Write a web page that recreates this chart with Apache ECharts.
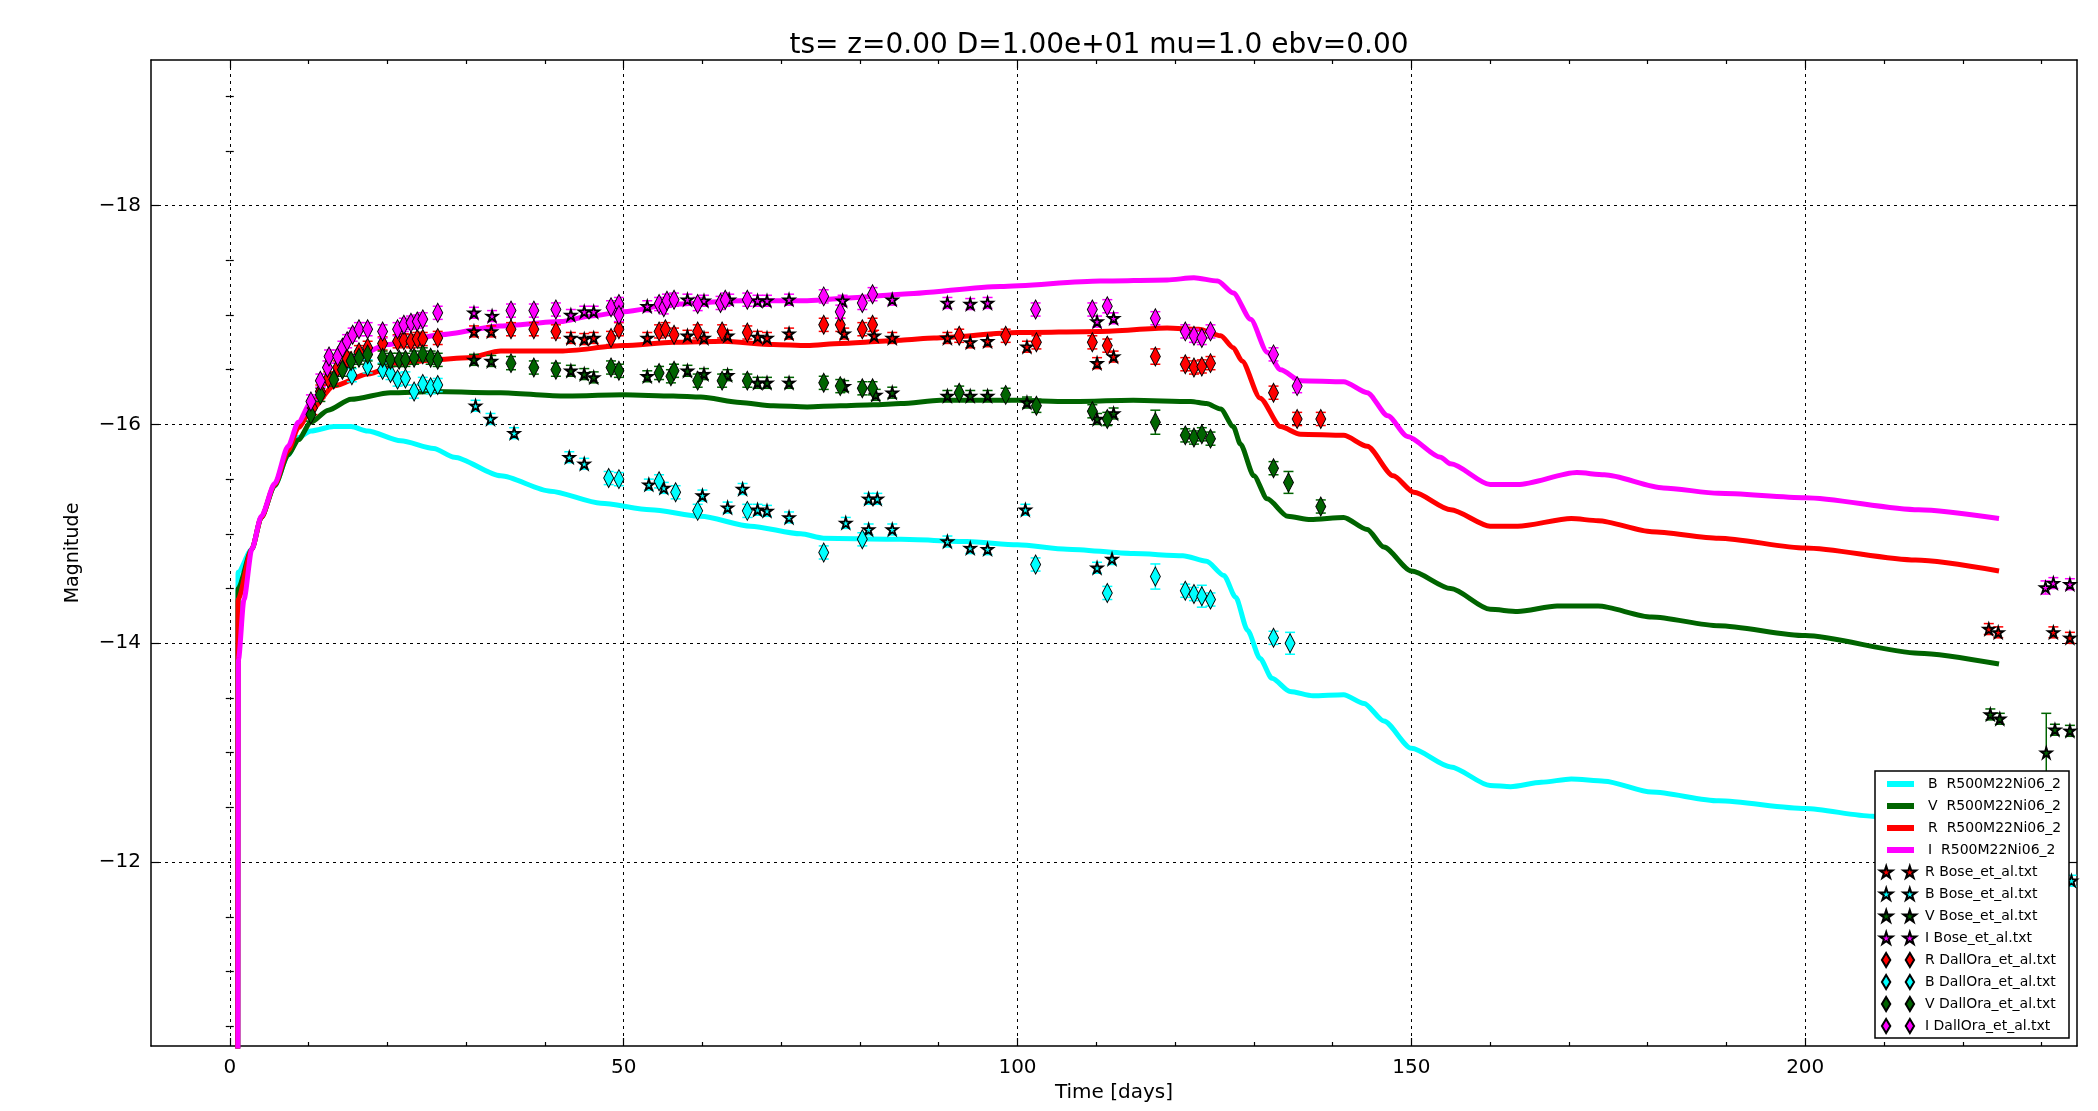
<!DOCTYPE html>
<html>
<head>
<meta charset="utf-8">
<script src="https://cdn.jsdelivr.net/npm/echarts@6/dist/echarts.min.js"></script>
<style>
  html, body { margin: 0; padding: 0; background: #fff; }
  #chart { width: 2098px; height: 1111px; }
</style>
</head>
<body>
<div id="chart"></div>
<script>
// model light curves [t, mag]
const modelB = [[1.0,-8],[1.05,-14.65],[2.8,-14.86],[4.0,-15.15],[5.7,-15.44],[7.4,-15.72],[8.7,-15.88],[10.3,-15.94],[13.2,-15.98],[15.4,-15.98],[17.5,-15.94],[21.7,-15.85],[25.9,-15.78],[28.5,-15.70],[34.4,-15.53],[40.7,-15.39],[47.1,-15.28],[53.4,-15.22],[59.8,-15.16],[66.1,-15.07],[72.5,-15.0],[75.4,-14.96],[85.2,-14.95],[93.6,-14.93],[100,-14.9],[106.3,-14.86],[114.7,-14.82],[121,-14.80],[124,-14.75],[126.2,-14.62],[127.7,-14.42],[129.2,-14.12],[130.8,-13.86],[132.3,-13.68],[134.6,-13.56],[137.5,-13.52],[141.4,-13.53],[144,-13.45],[146.5,-13.29],[150,-13.04],[155,-12.87],[160,-12.70],[162.6,-12.69],[166.5,-12.73],[170.3,-12.76],[174.5,-12.74],[180.5,-12.64],[189,-12.56],[200,-12.49],[208.5,-12.42],[216,-12.37],[224.6,-12.3]]
const modelV = [[1.0,-8],[1.05,-14.5],[2.8,-14.86],[4.0,-15.15],[5.7,-15.44],[7.4,-15.72],[8.7,-15.86],[10.3,-16.02],[12.5,-16.13],[15.4,-16.23],[20.4,-16.29],[25.9,-16.30],[34.4,-16.29],[42,-16.26],[50,-16.27],[56.3,-16.26],[59.8,-16.25],[64.8,-16.2],[69,-16.17],[73.3,-16.16],[77.5,-16.17],[81.7,-16.18],[85.2,-16.19],[90.2,-16.22],[100,-16.22],[106.3,-16.21],[114.7,-16.22],[122,-16.21],[124,-16.19],[125.8,-16.14],[127.4,-15.98],[128.3,-15.82],[130,-15.53],[131.7,-15.32],[134.3,-15.16],[137.2,-15.13],[141.4,-15.15],[144.4,-15.04],[146.5,-14.88],[150,-14.66],[155,-14.5],[160,-14.31],[163.5,-14.29],[168.5,-14.34],[173.7,-14.34],[180.5,-14.24],[189,-14.16],[200,-14.07],[214.4,-13.91],[224.6,-13.81]]
const modelR = [[1.0,-8],[1.05,-14.4],[2.8,-14.86],[4.0,-15.15],[5.7,-15.45],[7.4,-15.76],[8.7,-15.97],[10.3,-16.13],[13.2,-16.35],[17.5,-16.46],[21.7,-16.56],[25.9,-16.59],[30.2,-16.61],[34.4,-16.67],[42,-16.67],[50,-16.72],[56.3,-16.75],[62.7,-16.76],[69,-16.73],[73.3,-16.72],[77.5,-16.74],[85.2,-16.77],[89.4,-16.79],[100,-16.84],[110.5,-16.85],[119,-16.88],[123,-16.87],[125.8,-16.81],[127.4,-16.70],[128.5,-16.58],[130.8,-16.24],[133.4,-15.98],[135.9,-15.91],[141.4,-15.90],[144.4,-15.80],[147.7,-15.53],[150.3,-15.38],[155,-15.22],[160,-15.07],[163.5,-15.07],[170.3,-15.14],[173.7,-15.12],[180.5,-15.02],[189,-14.96],[200,-14.87],[214,-14.76],[224.6,-14.66]]
const modelI = [[1.0,-8],[1.1,-13.85],[1.8,-14.4],[2.8,-14.86],[4.0,-15.16],[5.7,-15.46],[7.4,-15.80],[8.7,-16.02],[10.3,-16.2],[13,-16.45],[16,-16.62],[20,-16.73],[26.8,-16.82],[34.4,-16.9],[42,-16.94],[45.8,-16.99],[50,-17.03],[56.3,-17.10],[64.8,-17.13],[73.3,-17.13],[79.7,-17.16],[85.2,-17.19],[97.8,-17.26],[110.5,-17.31],[119,-17.32],[122.4,-17.34],[125.4,-17.31],[127.4,-17.2],[129.6,-16.96],[131.7,-16.66],[133.4,-16.5],[135.9,-16.40],[141.4,-16.39],[144.4,-16.29],[147,-16.08],[149.5,-15.89],[153.7,-15.70],[155,-15.64],[160,-15.45],[163.5,-15.45],[171,-15.56],[174.5,-15.54],[182,-15.42],[189,-15.37],[200,-15.33],[214.4,-15.22],[224.6,-15.14]]

// observations [t, mag, err]
const boseR = [[31.0,-16.85,0.05],[33.2,-16.85,0.05],[43.3,-16.79,0.05],[45.0,-16.78,0.05],[46.2,-16.79,0.05],[53.0,-16.79,0.05],[58.1,-16.81,0.05],[60.2,-16.79,0.05],[63.2,-16.81,0.05],[67.0,-16.80,0.05],[68.2,-16.79,0.05],[71.0,-16.83,0.05],[78.0,-16.83,0.05],[81.8,-16.81,0.05],[84.1,-16.79,0.05],[91.1,-16.79,0.05],[94.0,-16.75,0.05],[96.2,-16.76,0.05],[101.2,-16.71,0.05],[110.1,-16.56,0.05],[112.2,-16.62,0.05],[223.3,-14.13,0.05],[224.5,-14.10,0.05],[231.5,-14.10,0.05],[233.6,-14.05,0.05]]
const boseB = [[31.2,-16.17,0.05],[33.1,-16.05,0.05],[36.1,-15.92,0.05],[43.1,-15.70,0.05],[45.0,-15.64,0.05],[53.2,-15.45,0.05],[55.1,-15.42,0.05],[60.0,-15.35,0.05],[63.2,-15.24,0.05],[65.1,-15.41,0.05],[67.0,-15.22,0.05],[68.2,-15.21,0.05],[71.0,-15.15,0.05],[78.2,-15.10,0.05],[81.1,-15.32,0.05],[82.2,-15.32,0.05],[81.1,-15.04,0.05],[84.1,-15.04,0.05],[91.1,-14.93,0.05],[94.0,-14.87,0.05],[96.2,-14.86,0.05],[101.0,-15.22,0.05],[110.1,-14.69,0.05],[112.0,-14.77,0.05],[233.8,-11.83,0.05]]
const boseV = [[31.0,-16.59,0.05],[33.2,-16.58,0.05],[43.3,-16.49,0.05],[45.0,-16.46,0.05],[46.2,-16.43,0.05],[53.0,-16.44,0.05],[58.1,-16.49,0.05],[60.2,-16.46,0.05],[63.2,-16.45,0.05],[67.0,-16.38,0.05],[68.2,-16.38,0.05],[71.0,-16.38,0.05],[78.0,-16.35,0.05],[82.0,-16.27,0.05],[84.1,-16.29,0.05],[91.1,-16.26,0.05],[94.0,-16.26,0.05],[96.2,-16.26,0.05],[101.2,-16.20,0.05],[110.1,-16.05,0.05],[112.2,-16.10,0.05],[223.5,-13.35,0.05],[224.7,-13.31,0.05],[230.6,-13.0,0.36],[231.7,-13.21,0.05],[233.6,-13.20,0.05]]
const boseI = [[31.0,-17.02,0.05],[33.3,-16.99,0.05],[43.3,-17.0,0.05],[45.0,-17.03,0.05],[46.2,-17.03,0.05],[53.0,-17.08,0.05],[58.1,-17.14,0.05],[60.2,-17.13,0.05],[63.4,-17.14,0.05],[67.0,-17.13,0.05],[68.2,-17.13,0.05],[71.0,-17.14,0.05],[77.8,-17.13,0.05],[84.1,-17.14,0.05],[91.1,-17.11,0.05],[94.0,-17.10,0.05],[96.2,-17.11,0.05],[110.1,-16.94,0.05],[112.2,-16.97,0.05],[230.5,-14.51,0.06],[231.5,-14.55,0.05],[233.6,-14.54,0.05]]
const dallR = [[10.5,-16.15,0.06],[11.5,-16.3,0.06],[12.5,-16.42,0.06],[13.7,-16.52,0.06],[14.9,-16.6,0.06],[16.4,-16.66,0.06],[17.5,-16.7,0.06],[19.4,-16.74,0.06],[21.3,-16.76,0.06],[22.1,-16.77,0.06],[23.0,-16.76,0.06],[23.8,-16.78,0.06],[24.5,-16.78,0.06],[26.4,-16.79,0.06],[35.7,-16.87,0.06],[38.6,-16.87,0.06],[41.4,-16.85,0.06],[48.4,-16.79,0.06],[49.4,-16.87,0.06],[54.5,-16.85,0.06],[55.3,-16.87,0.06],[56.4,-16.82,0.06],[59.4,-16.85,0.06],[62.5,-16.85,0.06],[65.7,-16.84,0.06],[75.4,-16.91,0.06],[77.5,-16.91,0.06],[80.3,-16.87,0.06],[81.6,-16.91,0.06],[92.6,-16.81,0.06],[98.5,-16.81,0.06],[102.4,-16.75,0.06],[109.5,-16.75,0.06],[111.4,-16.72,0.06],[117.5,-16.62,0.07],[121.3,-16.55,0.06],[122.4,-16.52,0.06],[123.4,-16.53,0.06],[124.5,-16.56,0.06],[132.5,-16.29,0.06],[135.5,-16.05,0.06],[138.5,-16.05,0.06]]
const dallB = [[15.5,-16.45,0.06],[17.5,-16.53,0.06],[19.4,-16.50,0.06],[20.4,-16.47,0.06],[21.3,-16.41,0.06],[22.3,-16.42,0.06],[23.4,-16.30,0.06],[24.5,-16.37,0.06],[25.5,-16.34,0.06],[26.4,-16.36,0.06],[48.1,-15.51,0.06],[49.4,-15.50,0.06],[54.5,-15.48,0.06],[56.6,-15.38,0.06],[59.4,-15.21,0.06],[65.7,-15.21,0.06],[75.4,-14.83,0.06],[80.3,-14.95,0.06],[102.3,-14.72,0.06],[111.4,-14.46,0.06],[117.5,-14.61,0.115],[121.3,-14.48,0.06],[122.4,-14.45,0.06],[123.4,-14.43,0.1],[124.5,-14.40,0.06],[132.5,-14.05,0.06],[134.6,-14.0,0.1]]
const dallV = [[10.3,-16.09,0.06],[11.5,-16.27,0.06],[13.2,-16.41,0.06],[14.3,-16.50,0.06],[15.4,-16.58,0.06],[16.4,-16.61,0.06],[17.5,-16.64,0.06],[19.4,-16.61,0.06],[20.4,-16.59,0.06],[21.5,-16.59,0.06],[22.3,-16.59,0.06],[23.4,-16.61,0.06],[24.5,-16.64,0.06],[25.5,-16.61,0.06],[26.4,-16.59,0.06],[35.7,-16.56,0.06],[38.6,-16.52,0.06],[41.4,-16.50,0.06],[48.4,-16.52,0.06],[49.4,-16.49,0.06],[54.5,-16.47,0.06],[56.0,-16.44,0.06],[56.4,-16.49,0.06],[59.4,-16.40,0.06],[62.5,-16.40,0.06],[65.7,-16.40,0.06],[75.4,-16.38,0.06],[77.5,-16.35,0.06],[80.3,-16.33,0.06],[81.6,-16.33,0.06],[92.6,-16.29,0.06],[98.5,-16.27,0.06],[102.4,-16.17,0.06],[109.5,-16.12,0.06],[111.4,-16.05,0.06],[117.5,-16.02,0.11],[121.3,-15.90,0.06],[122.4,-15.88,0.06],[123.4,-15.91,0.06],[124.5,-15.87,0.06],[132.5,-15.60,0.06],[134.4,-15.47,0.1],[138.5,-15.25,0.06]]
const dallI = [[10.3,-16.21,0.06],[11.5,-16.40,0.06],[12.4,-16.52,0.06],[12.6,-16.62,0.06],[13.7,-16.62,0.06],[14.3,-16.70,0.06],[14.9,-16.76,0.06],[15.6,-16.82,0.06],[16.4,-16.87,0.06],[17.5,-16.87,0.06],[19.4,-16.85,0.06],[21.3,-16.87,0.06],[22.1,-16.91,0.06],[23.0,-16.93,0.06],[23.8,-16.94,0.06],[24.5,-16.96,0.06],[26.4,-17.02,0.06],[35.7,-17.04,0.06],[38.6,-17.04,0.06],[41.4,-17.05,0.06],[48.4,-17.07,0.06],[49.4,-17.10,0.06],[49.4,-17.0,0.06],[54.5,-17.10,0.06],[55.1,-17.07,0.06],[55.5,-17.13,0.06],[56.4,-17.14,0.06],[59.4,-17.10,0.06],[62.3,-17.11,0.06],[62.9,-17.14,0.06],[65.7,-17.14,0.06],[75.4,-17.17,0.06],[77.5,-17.03,0.06],[80.3,-17.11,0.06],[81.6,-17.19,0.06],[102.3,-17.05,0.06],[109.5,-17.05,0.06],[111.4,-17.08,0.06],[117.5,-16.97,0.06],[121.3,-16.85,0.06],[122.4,-16.81,0.06],[123.4,-16.79,0.06],[124.5,-16.85,0.06],[132.5,-16.64,0.06],[135.5,-16.35,0.06]]

// axis ticks
const xMajorTicks = [0, 50, 100, 150, 200]
const xMinorTicks = [10, 20, 30, 40, 60, 70, 80, 90, 110, 120, 130, 140, 160, 170, 180, 190, 210, 220, 230]
const yMajorTicks = [-18, -16, -14, -12]
const yMinorTicks = [-19, -18.5, -17.5, -17, -16.5, -15.5, -15, -14.5, -13.5, -13, -12.5, -11.5, -11, -10.5]

const COLORS = { B: '#00ffff', V: '#006400', R: '#ff0000', I: '#ff00ff' }
const FONT = 'DejaVu Sans'

const STAR = 'path://M10,0 L12.23,6.93 L19.51,6.91 L13.61,11.17 L15.88,18.09 L10,13.8 L4.12,18.09 L6.39,11.17 L0.49,6.91 L7.77,6.93 Z'
const STAR2 = 'path://M10,0 L12.23,6.93 L19.51,6.91 L13.61,11.17 L15.88,18.09 L10,13.8 L4.12,18.09 L6.39,11.17 L0.49,6.91 L7.77,6.93 Z ' +
  'M46,0 L48.23,6.93 L55.51,6.91 L49.61,11.17 L51.88,18.09 L46,13.8 L40.12,18.09 L42.39,11.17 L36.49,6.91 L43.77,6.93 Z'
const DIAM2 = 'path://M6,0 L12,10 L6,20 L0,10 Z M40,0 L46,10 L40,20 L34,10 Z'

const modelName = (b) => b + '  R500M22Ni06_2'

const lineSeries = (band, data) => ({
  name: modelName(band),
  type: 'line',
  data,
  symbol: 'none',
  smooth: 0.25,
  smoothMonotone: 'x',
  lineStyle: { color: COLORS[band], width: 5 },
  itemStyle: { color: COLORS[band] },
  z: 2,
})

const errSeries = (name, data, color) => ({
  name: name + ' err',
  type: 'custom',
  data,
  encode: { x: 0, y: 1 },
  clip: true,
  z: 3,
  renderItem: (params, api) => {
    const t = api.value(0), m = api.value(1), e = api.value(2)
    const a = api.coord([t, m - e]), b = api.coord([t, m + e])
    const st = { stroke: color, lineWidth: 1.5 }
    const w = 5
    return {
      type: 'group',
      children: [
        { type: 'line', shape: { x1: a[0], y1: a[1], x2: b[0], y2: b[1] }, style: st },
        { type: 'line', shape: { x1: a[0] - w, y1: a[1], x2: a[0] + w, y2: a[1] }, style: st },
        { type: 'line', shape: { x1: b[0] - w, y1: b[1], x2: b[0] + w, y2: b[1] }, style: st },
      ],
    }
  },
})

const dotSeries = (name, data, color, kind) => ({
  name,
  type: 'scatter',
  data,
  encode: { x: 0, y: 1 },
  symbol: kind === 'star' ? STAR : 'diamond',
  symbolSize: kind === 'star' ? [11, 11] : [10, 19],
  itemStyle: { color, borderColor: '#000', borderWidth: kind === 'star' ? 1.8 : 1, opacity: 1 },
  z: 3,
})

const obs = [
  ['R Bose_et_al.txt', boseR, COLORS.R, 'star'],
  ['B Bose_et_al.txt', boseB, COLORS.B, 'star'],
  ['V Bose_et_al.txt', boseV, COLORS.V, 'star'],
  ['I Bose_et_al.txt', boseI, COLORS.I, 'star'],
  ['R DallOra_et_al.txt', dallR, COLORS.R, 'diam'],
  ['B DallOra_et_al.txt', dallB, COLORS.B, 'diam'],
  ['V DallOra_et_al.txt', dallV, COLORS.V, 'diam'],
  ['I DallOra_et_al.txt', dallI, COLORS.I, 'diam'],
]

const series = [
  lineSeries('B', modelB),
  lineSeries('V', modelV),
  lineSeries('R', modelR),
  lineSeries('I', modelI),
]
obs.forEach(([name, data, color, kind]) => {
  series.push(errSeries(name, data, color))
  series.push(dotSeries(name, data, color, kind))
})

const X_MIN = -10, X_MAX = 234.5
const Y_MIN = -19.33, Y_MAX = -10.32

const tickLine = { lineStyle: { color: '#000', width: 1.2 } }
const minus = (v) => String(v).replace('-', '\u2212')

const xAxes = [
  {
    type: 'value', min: X_MIN, max: X_MAX, position: 'bottom',
    name: 'Time [days]', nameLocation: 'middle', nameGap: 37,
    nameTextStyle: { color: '#000', fontSize: 20, fontFamily: FONT },
    axisLine: { show: true, onZero: false, lineStyle: { color: '#000', width: 1.5 } },
    axisTick: { show: true, inside: true, length: 8, customValues: xMajorTicks, ...tickLine },
    axisLabel: { customValues: xMajorTicks, color: '#000', fontSize: 20, fontFamily: FONT, margin: 12, formatter: minus },
    splitLine: { show: true, lineStyle: { color: '#000', type: [3, 4], width: 1 } },
  },
  {
    type: 'value', min: X_MIN, max: X_MAX, position: 'bottom',
    axisLine: { show: false }, axisLabel: { show: false }, splitLine: { show: false },
    axisTick: { show: true, inside: true, length: 4, customValues: xMinorTicks, ...tickLine },
  },
  {
    type: 'value', min: X_MIN, max: X_MAX, position: 'top',
    axisLine: { show: true, onZero: false, lineStyle: { color: '#000', width: 1.5 } },
    axisLabel: { show: false }, splitLine: { show: false },
    axisTick: { show: true, inside: true, length: 8, customValues: xMajorTicks, ...tickLine },
  },
  {
    type: 'value', min: X_MIN, max: X_MAX, position: 'top',
    axisLine: { show: false }, axisLabel: { show: false }, splitLine: { show: false },
    axisTick: { show: true, inside: true, length: 4, customValues: xMinorTicks, ...tickLine },
  },
]

const yAxes = [
  {
    type: 'value', min: Y_MIN, max: Y_MAX, inverse: true, position: 'left',
    name: 'Magnitude', nameLocation: 'middle', nameGap: 68, nameRotate: 90,
    nameTextStyle: { color: '#000', fontSize: 19, fontFamily: FONT },
    axisLine: { show: true, onZero: false, lineStyle: { color: '#000', width: 1.5 } },
    axisTick: { show: true, inside: true, length: 8, customValues: yMajorTicks, ...tickLine },
    axisLabel: { customValues: yMajorTicks, color: '#000', fontSize: 20, fontFamily: FONT, margin: 10, formatter: minus },
    splitLine: { show: true, lineStyle: { color: '#000', type: [3, 4], width: 1 } },
  },
  {
    type: 'value', min: Y_MIN, max: Y_MAX, inverse: true, position: 'left',
    axisLine: { show: false }, axisLabel: { show: false }, splitLine: { show: false },
    axisTick: { show: true, inside: true, length: 4, customValues: yMinorTicks, ...tickLine },
  },
  {
    type: 'value', min: Y_MIN, max: Y_MAX, inverse: true, position: 'right',
    axisLine: { show: true, onZero: false, lineStyle: { color: '#000', width: 1.5 } },
    axisLabel: { show: false }, splitLine: { show: false },
    axisTick: { show: true, inside: true, length: 8, customValues: yMajorTicks, ...tickLine },
  },
  {
    type: 'value', min: Y_MIN, max: Y_MAX, inverse: true, position: 'right',
    axisLine: { show: false }, axisLabel: { show: false }, splitLine: { show: false },
    axisTick: { show: true, inside: true, length: 4, customValues: yMinorTicks, ...tickLine },
  },
]

const legendText = { color: '#000', fontSize: 14, fontFamily: FONT, lineHeight: 16 }

const option = {
  animation: false,
  backgroundColor: '#fff',
  title: {
    text: 'ts= z=0.00 D=1.00e+01 mu=1.0 ebv=0.00',
    left: 1094, textAlign: 'center', top: 27,
    textStyle: { color: '#000', fontSize: 28, fontWeight: 'normal', fontFamily: FONT },
  },
  grid: { left: 151, right: 21, top: 60, bottom: 65, containLabel: false },
  xAxis: xAxes,
  yAxis: yAxes,
  legend: [
    {
      orient: 'vertical', left: 1882, top: 771,
      itemWidth: 27, itemHeight: 6, itemGap: 6,
      icon: 'rect',
      data: ['B', 'V', 'R', 'I'].map(modelName),
      textStyle: { ...legendText, padding: [0, 0, 0, 9] },
      selectedMode: false,
    },
    {
      orient: 'vertical', left: 1874, top: 859,
      itemWidth: 36, itemHeight: 14, itemGap: 6,
      data: obs.map(([name, , , kind]) => ({ name, icon: kind === 'star' ? STAR2 : DIAM2 })),
      textStyle: { ...legendText, padding: [0, 0, 0, 4] },
      selectedMode: false,
    },
  ],
  graphic: [
    {
      type: 'rect', z: 3.5,
      shape: { x: 1875, y: 771, width: 194, height: 267 },
      style: { fill: '#fff', stroke: '#000', lineWidth: 1.5 },
    },
  ],
  series,
}

const chart = echarts.init(document.getElementById('chart'))
chart.setOption(option)
window.addEventListener('resize', () => chart.resize())
</script>
</body>
</html>
